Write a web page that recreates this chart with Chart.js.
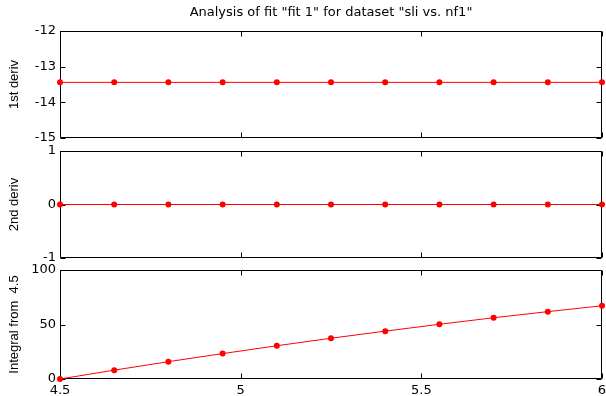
<!DOCTYPE html>
<html>
<head>
<meta charset="utf-8">
<script src="https://cdn.jsdelivr.net/npm/chart.js@4.4.1/dist/chart.umd.min.js"></script>
<style>
  body { margin: 0; background: #fff; }
  #wrap { position: relative; width: 606px; height: 396px; }
  #wrap canvas { position: absolute; left: 0; top: 0; }
</style>
</head>
<body>
<div id="wrap">
  <canvas id="c1" width="606" height="396"></canvas>
  <canvas id="c2" width="606" height="396"></canvas>
  <canvas id="c3" width="606" height="396"></canvas>
</div>
<script>
var titleText = 'Analysis of fit "fit 1" for dataset "sli vs. nf1"';
var xValues = [4.5, 4.65, 4.8, 4.95, 5.1, 5.25, 5.4, 5.55, 5.7, 5.85, 6.0];
var firstDeriv = [-13.44, -13.44, -13.44, -13.44, -13.44, -13.44, -13.44, -13.44, -13.44, -13.44, -13.44];
var secondDeriv = [0, 0, 0, 0, 0, 0, 0, 0, 0, 0, 0];
var integral = [0, 8.1, 15.9, 23.3, 30.5, 37.4, 43.9, 50.2, 56.2, 61.8, 67.2];
var xTicks = [4.5, 5, 5.5, 6];
var yTicks1 = [-15, -14, -13, -12];
var yTicks2 = [-1, 0, 1];
var yTicks3 = [0, 50, 100];

var wideFont = '"DejaVu Sans", "Liberation Sans", Arial, sans-serif';
var labelFont = '"Liberation Sans", Arial, Helvetica, sans-serif';

// matlab style box with inward ticks
var matlabBox = {
    id: 'matlabBox',
    beforeDatasetsDraw: function (chart) {
        var ctx = chart.ctx;
        var a = chart.chartArea;
        var xs = chart.scales.x, ys = chart.scales.y;
        var L = Math.round(a.left) + 0.5, R = Math.round(a.right) - 0.5;
        var T = Math.round(a.top) + 0.5, B = Math.round(a.bottom) - 0.5;
        ctx.save();
        ctx.strokeStyle = '#000';
        ctx.lineWidth = 1;
        ctx.beginPath();
        ctx.rect(L, T, R - L, B - T);
        xs.ticks.forEach(function (t) {
            var px = Math.round(xs.getPixelForValue(t.value)) + 0.5;
            ctx.moveTo(px, B); ctx.lineTo(px, B - 5);
            ctx.moveTo(px, T); ctx.lineTo(px, T + 5);
        });
        ys.ticks.forEach(function (t) {
            var py = Math.round(ys.getPixelForValue(t.value)) + 0.5;
            ctx.moveTo(L, py); ctx.lineTo(L + 5, py);
            ctx.moveTo(R, py); ctx.lineTo(R - 5, py);
        });
        ctx.stroke();
        ctx.restore();
    }
};

function makeChart(id, values, yLabel, yMin, yMax, yTicks, pad, showX, title) {
    var pts = xValues.map(function (x, i) { return { x: x, y: values[i] }; });
    return new Chart(document.getElementById(id), {
        type: 'line',
        data: {
            datasets: [{
                data: pts,
                borderColor: '#ff0000',
                backgroundColor: '#ff0000',
                borderWidth: 1,
                pointRadius: 3,
                pointBorderWidth: 0,
                tension: 0,
                clip: false
            }]
        },
        options: {
            responsive: false,
            animation: false,
            devicePixelRatio: 1,
            layout: { padding: pad },
            plugins: {
                legend: { display: false },
                tooltip: { enabled: false },
                title: {
                    display: !!title,
                    text: title || '',
                    fullSize: false,
                    color: '#000',
                    font: { family: wideFont, size: 13, weight: 'normal' },
                    padding: { top: 5, bottom: 10.4 }
                }
            },
            scales: {
                x: {
                    type: 'linear',
                    min: 4.5,
                    max: 6,
                    afterBuildTicks: function (s) {
                        s.ticks = xTicks.map(function (v) { return { value: v }; });
                    },
                    afterFit: function (s) {
                        s.height = showX ? 17 : 0;
                        s.paddingLeft = 0;
                        s.paddingRight = 0;
                    },
                    grid: { display: false, drawTicks: false },
                    border: { display: false },
                    ticks: {
                        display: showX,
                        padding: 4,
                        color: '#000',
                        maxRotation: 0,
                        callback: function (v) { return String(v); },
                        font: { family: wideFont, size: 13 }
                    }
                },
                y: {
                    min: yMin,
                    max: yMax,
                    afterBuildTicks: function (s) {
                        s.ticks = yTicks.map(function (v) { return { value: v }; });
                    },
                    afterFit: function (s) {
                        s.width = 60;
                        s.paddingTop = 0;
                        s.paddingBottom = 0;
                    },
                    grid: { display: false, drawTicks: false },
                    border: { display: false },
                    ticks: {
                        padding: 4,
                        color: '#000',
                        callback: function (v) { return String(v); },
                        font: { family: wideFont, size: 13 }
                    },
                    title: {
                        display: true,
                        text: yLabel,
                        color: '#000',
                        padding: { top: 7, bottom: 0 },
                        font: { family: labelFont, size: 13 }
                    }
                }
            }
        },
        plugins: [matlabBox]
    });
}

makeChart('c1', firstDeriv, '1st deriv', -15, -12, yTicks1,
    { top: 0, bottom: 258, left: 0, right: 3 }, false, titleText);
makeChart('c2', secondDeriv, '2nd deriv', -1, 1, yTicks2,
    { top: 151, bottom: 138, left: 0, right: 3 }, false, null);
makeChart('c3', integral, 'Integral from  4.5', 0, 100, yTicks3,
    { top: 270, bottom: 0, left: 0, right: 3 }, true, null);
</script>
</body>
</html>
